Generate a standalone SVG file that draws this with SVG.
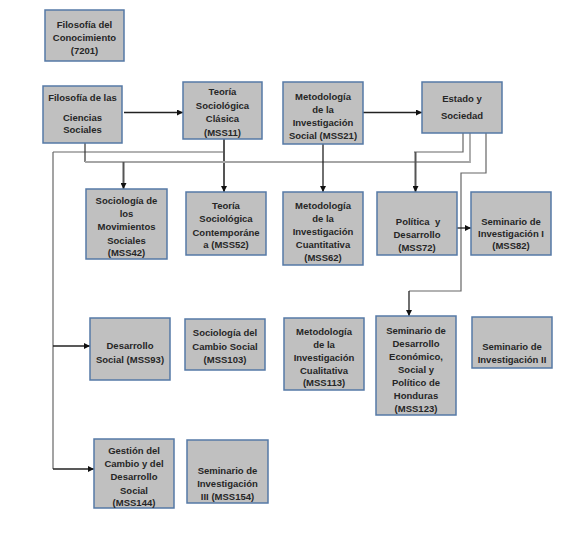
<svg xmlns="http://www.w3.org/2000/svg" width="583" height="544" viewBox="0 0 583 544">
<defs>
<marker id="ah" markerWidth="6" markerHeight="6" refX="6" refY="3" orient="auto" markerUnits="userSpaceOnUse">
<path d="M0,0 L6,3 L0,6 Z" fill="#111"/>
</marker>
</defs>
<style>
.box{fill:#c0c0c0;stroke:#5579a6;stroke-width:1.5}
text{font-family:"Liberation Sans",Arial,sans-serif;font-weight:bold;font-size:9.5px;fill:#262626;text-anchor:middle}
.dk{fill:none;stroke:#333;stroke-width:1.2}
.md{fill:none;stroke:#666;stroke-width:1.2}
.lt{fill:none;stroke:#a6a6a6;stroke-width:1.8}
.ar{fill:none;stroke:#222;stroke-width:1.3;marker-end:url(#ah)}
.arg{fill:none;stroke:#555;stroke-width:2;marker-end:url(#ah)}
</style>
<rect width="583" height="544" fill="#fff"/>
<g id="connectors">
<path class="ar" d="M124,112.5 H183"/>
<path class="ar" d="M363,112.5 H422"/>
<path class="md" d="M53,152 H224"/>
<path class="md" d="M53,152 V469"/>
<path class="ar" d="M53,346 H90"/>
<path class="ar" d="M53,469 H94"/>
<path class="arg" d="M224,139 V192"/>
<path class="dk" d="M85,143 V162"/>
<path class="lt" d="M85,162 H470 V133"/>
<path class="arg" d="M123.5,162 V189"/>
<path class="ar" d="M323,144 V192"/>
<path class="md" d="M463,133 V152 H414"/>
<path class="arg" d="M415.5,152 V192"/>
<path class="md" d="M486,133 V173 H461 V291 H409"/>
<path class="ar" d="M409,291 V316"/>
<path class="ar" d="M457,228 H471"/>
</g>
<g id="n7201"><rect class="box" x="45" y="10" width="79" height="51"/>
<text x="84.5" y="28">Filosofía del</text><text x="84.5" y="41">Conocimiento</text><text x="84.5" y="54">(7201)</text></g>
<g id="nfcs"><rect class="box" x="43" y="86" width="79" height="57"/>
<text x="82.5" y="101">Filosofía de las</text><text x="82.5" y="121">Ciencias</text><text x="82.5" y="133">Sociales</text></g>
<g id="mss11"><rect class="box" x="183" y="82" width="79" height="57"/>
<text x="222.5" y="95">Teoría</text><text x="222.5" y="109">Sociológica</text><text x="222.5" y="122">Clásica</text><text x="222.5" y="136">(MSS11)</text></g>
<g id="mss21"><rect class="box" x="283" y="82" width="80" height="62"/>
<text x="323" y="99.5">Metodología</text><text x="323" y="112.5">de la</text><text x="323" y="126">Investigación</text><text x="323" y="139">Social (MSS21)</text></g>
<g id="estado"><rect class="box" x="422" y="82" width="80" height="51"/>
<text x="462" y="102">Estado y</text><text x="462" y="119">Sociedad</text></g>
<g id="mss42"><rect class="box" x="86" y="189" width="81" height="70"/>
<text x="126.5" y="203.5">Sociología de</text><text x="126.5" y="217">los</text><text x="126.5" y="230">Movimientos</text><text x="126.5" y="243.5">Sociales</text><text x="126.5" y="256">(MSS42)</text></g>
<g id="mss52"><rect class="box" x="186" y="192" width="80" height="63"/>
<text x="226" y="209">Teoría</text><text x="226" y="222">Sociológica</text><text x="226" y="235.5">Contemporáne</text><text x="226" y="248">a (MSS52)</text></g>
<g id="mss62"><rect class="box" x="283" y="192" width="80" height="73"/>
<text x="323" y="208.5">Metodología</text><text x="323" y="221.5">de la</text><text x="323" y="234.5">Investigación</text><text x="323" y="247.5">Cuantitativa</text><text x="323" y="261">(MSS62)</text></g>
<g id="mss72"><rect class="box" x="377" y="192" width="80" height="63"/>
<text x="418" y="225" xml:space="preserve">Política  y</text><text x="417" y="237.5">Desarrollo</text><text x="417" y="250.5">(MSS72)</text></g>
<g id="mss82"><rect class="box" x="471" y="192" width="80" height="63"/>
<text x="511" y="224.5">Seminario de</text><text x="511" y="236.5">Investigación I</text><text x="511" y="248.5">(MSS82)</text></g>
<g id="mss93"><rect class="box" x="90" y="318" width="80" height="62"/>
<text x="130" y="349">Desarrollo</text><text x="130" y="362.5">Social (MSS93)</text></g>
<g id="mss103"><rect class="box" x="185" y="319" width="80" height="51"/>
<text x="225" y="336">Sociología del</text><text x="225" y="350">Cambio Social</text><text x="225" y="363">(MSS103)</text></g>
<g id="mss113"><rect class="box" x="284" y="318" width="80" height="72"/>
<text x="324" y="334.5">Metodología</text><text x="324" y="348">de la</text><text x="324" y="360.5">Investigación</text><text x="324" y="373.5">Cualitativa</text><text x="324" y="386">(MSS113)</text></g>
<g id="mss123"><rect class="box" x="376" y="316" width="80" height="99"/>
<text x="416" y="333.5">Seminario de</text><text x="416" y="346.5">Desarrollo</text><text x="416" y="359.5">Económico,</text><text x="416" y="372.5">Social y</text><text x="416" y="386">Político de</text><text x="416" y="399">Honduras</text><text x="416" y="411.5">(MSS123)</text></g>
<g id="seminv2"><rect class="box" x="472" y="317" width="80" height="51"/>
<text x="512" y="349.5">Seminario de</text><text x="512" y="362.5">Investigación II</text></g>
<g id="mss144"><rect class="box" x="94" y="439" width="80" height="69"/>
<text x="134" y="454">Gestión del</text><text x="134" y="467">Cambio y del</text><text x="134" y="480">Desarrollo</text><text x="134" y="493.5">Social</text><text x="134" y="506">(MSS144)</text></g>
<g id="mss154"><rect class="box" x="187" y="440" width="81" height="63"/>
<text x="227.5" y="473.5">Seminario de</text><text x="227.5" y="487">Investigación</text><text x="227.5" y="500">III (MSS154)</text></g>
</svg>
